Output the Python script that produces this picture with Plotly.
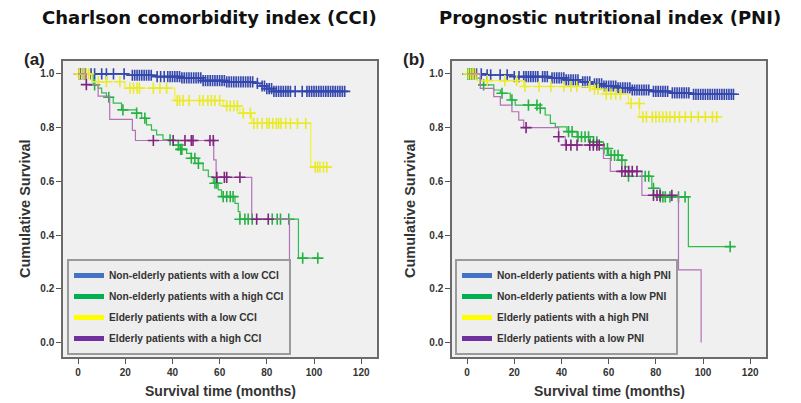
import plotly.graph_objects as go

# ---------------- data ----------------
month_ticks = [0, 20, 40, 60, 80, 100, 120]
surv_ticks = [0.0, 0.2, 0.4, 0.6, 0.8, 1.0]

panel_titles = ["Charlson comorbidity index (CCI)", "Prognostic nutritional index (PNI)"]
panel_tags = ["(a)", "(b)"]

a_names = ["Non-elderly patients with a low CCI", "Non-elderly patients with a high CCI",
           "Elderly patients with a low CCI", "Elderly patients with a high CCI"]
b_names = ["Non-elderly patients with a high PNI", "Non-elderly patients with a low PNI",
           "Elderly patients with a high PNI", "Elderly patients with a low PNI"]

# Panel (a) - step times, survival after each step, end of follow-up, censor times
a_blue_t = [0, 20.5, 33.3, 43.2, 53, 63, 74.3, 77.1, 80, 82.8]
a_blue_s = [1.0, 0.995, 0.99, 0.985, 0.975, 0.97, 0.965, 0.955, 0.945, 0.935]
a_blue_end = 113.5
a_blue_c = [0.5, 1, 1.5, 2.5, 3, 5.5, 7, 10, 12, 15, 19.5, 23, 24, 25, 26, 27, 28, 29, 30, 31,
            33.5, 35, 36.5, 38, 39, 40, 41, 42, 43, 44, 45, 46, 47, 48, 49, 50, 51, 52, 53, 54,
            55, 56, 57, 58, 59, 60, 61, 62, 63, 64, 65, 66, 67, 68, 69, 70, 71, 72, 73, 74, 76,
            78, 79, 80, 81, 82, 83, 84, 85, 86, 87, 88, 89, 90, 92, 95, 97, 98, 99, 100, 101,
            102, 103, 104, 105, 106, 107, 108, 109, 110, 111, 112, 113]

a_green_t = [0, 6.4, 8.5, 10, 12, 14.9, 18.4, 24.8, 26.9, 29, 31.1, 33.3, 36, 40.3, 43.2, 46,
             48, 51, 53, 55.2, 57.3, 59.4, 60.8, 66.5, 67.9, 68.6, 93.4]
a_green_s = [1.0, 0.959, 0.947, 0.929, 0.913, 0.891, 0.866, 0.854, 0.835, 0.81, 0.791, 0.773,
             0.754, 0.735, 0.719, 0.704, 0.686, 0.667, 0.642, 0.617, 0.593, 0.568, 0.543,
             0.518, 0.487, 0.459, 0.314]
a_green_end = 102.6
a_green_c = [7, 13, 19, 24.8, 28.3, 39, 42.5, 43.5, 44, 48, 49.5, 51, 58, 58.8, 61.5, 63,
             64.5, 65.7, 68.6, 70.7, 72.1, 73.8, 82.3, 84.4, 85.8, 89.3, 95.2, 101.6]

a_yellow_t = [0, 5.7, 19.8, 41, 61.5, 68.6, 73.6, 98.6]
a_yellow_s = [1.0, 0.971, 0.947, 0.901, 0.881, 0.854, 0.816, 0.653]
a_yellow_end = 105.4
a_yellow_c = [0.5, 1.5, 2.5, 3.5, 4.5, 8.6, 12, 17.7, 22, 23.5, 25, 26, 31.9, 34.7, 37.5, 42,
              43, 44.5, 47, 51.5, 53, 55, 56.5, 58, 60, 63, 64.5, 66, 67.5, 70, 73, 74.5, 76,
              78, 80, 81, 82.5, 84, 85, 86, 88, 90, 93, 96.5, 100.5, 101.5, 102.5, 104, 105.4]

a_purple_t = [0, 3.5, 8.5, 13.4, 23, 24.3, 57.5, 58.5, 73.6, 89.6]
a_purple_s = [1.0, 0.96, 0.917, 0.831, 0.79, 0.752, 0.68, 0.615, 0.459, 0.0]
a_purple_end = 89.6
a_purple_c = [3.5, 31.9, 40.3, 45.3, 48, 48.7, 55.9, 57.3, 58.8, 62, 63, 68.6, 75.7, 80.6]

# Panel (b)
b_blue_t = [0, 8, 20, 35, 42, 48, 53, 58, 64, 70, 78, 86, 95]
b_blue_s = [1.0, 0.996, 0.99, 0.985, 0.978, 0.97, 0.963, 0.955, 0.948, 0.94, 0.935, 0.929, 0.924]
b_blue_end = 112.9
b_blue_c = [0.3, 1, 2, 3, 4, 6, 8.5, 10, 14, 17, 20, 22, 24, 25, 26, 27, 28, 29, 30, 32, 33,
            34, 36, 37, 38, 39, 40, 41, 42, 43, 44, 45, 46, 47, 49, 50, 51, 52, 54, 55, 56, 57,
            58, 59, 60, 61, 62, 63, 64, 65, 66, 67, 68, 69, 70, 71, 72, 73, 74, 75, 76, 77, 79,
            80, 81, 82, 83, 84, 85, 87, 88, 89, 90, 91, 92, 93, 94, 96, 97, 98, 99, 100, 101,
            102, 103, 104, 105, 106, 107, 108, 109, 110, 111, 112, 112.9]

b_green_t = [0, 3.5, 5.6, 11.3, 14.1, 18.3, 20.4, 31, 33.1, 35.3, 37.4, 42.3, 46.6, 52.2, 57.8,
             60, 65.6, 67, 68.4, 78.3, 81.8, 93.8]
b_green_s = [1.0, 0.984, 0.959, 0.94, 0.928, 0.903, 0.884, 0.872, 0.847, 0.816, 0.803, 0.785,
             0.766, 0.747, 0.722, 0.697, 0.679, 0.654, 0.619, 0.574, 0.542, 0.357]
b_green_end = 112.2
b_green_c = [0.3, 1, 2, 7, 14.8, 19, 26, 29.6, 31, 43, 44.5, 47, 48.5, 50, 51.5, 53.6, 55, 58,
             59.5, 61, 62.5, 64, 65.6, 68.4, 75.5, 77, 79, 81.9, 83, 84, 86, 89.6, 92.4, 111.5]

b_yellow_t = [0, 4.2, 24, 53.6, 58, 68.4, 73.1]
b_yellow_s = [1.0, 0.975, 0.953, 0.943, 0.925, 0.89, 0.84]
b_yellow_end = 105.8
b_yellow_c = [0.5, 1.5, 2.5, 3.5, 8.5, 16, 21, 24.5, 30.5, 35.5, 41, 44, 46.5, 52, 54, 55.5,
              59, 61, 63, 65, 69.5, 73, 74.5, 76, 78.5, 80, 81.5, 83, 84.5, 86, 88, 90, 92.5,
              95, 98, 101, 104, 105.8]

b_purple_t = [0, 5.6, 11.3, 14.1, 19, 21.9, 24, 38.8, 41.6, 57.8, 60.7, 74.1, 89.6, 99.2]
b_purple_s = [1.0, 0.946, 0.915, 0.884, 0.859, 0.828, 0.8, 0.766, 0.735, 0.685, 0.637, 0.548,
              0.27, 0.0]
b_purple_end = 99.2
b_purple_c = [25, 38.8, 42, 44, 46.6, 52, 53.5, 55, 56, 65.6, 67, 68.5, 70, 72, 79, 80.5,
              81.8, 86.8]

# ---------------- styling ----------------
line_cols = ["#3d50b3", "#2fbb4d", "#f2f23a", "#b470b8"]
mark_cols = ["#3447ad", "#25b243", "#eaea2c", "#7f2580"]
legend_cols = ["#4472c4", "#00b050", "#ffff00", "#7030a0"]
FONT = "Liberation Sans, Arial, sans-serif"

W, H = 801, 403
xdom = [[63 / W, 377 / W], [452 / W, 766 / W]]
ydom = [(H - 357) / H, (H - 61) / H]


def surv_at(t_list, s_list, t):
    val = s_list[0]
    for tt, ss in zip(t_list, s_list):
        if tt <= t:
            val = ss
    return val


fig = go.Figure()

panels = [
    ("x", "y", "legend", a_names,
     [(a_blue_t, a_blue_s, a_blue_end, a_blue_c), (a_green_t, a_green_s, a_green_end, a_green_c),
      (a_yellow_t, a_yellow_s, a_yellow_end, a_yellow_c),
      (a_purple_t, a_purple_s, a_purple_end, a_purple_c)]),
    ("x2", "y2", "legend2", b_names,
     [(b_blue_t, b_blue_s, b_blue_end, b_blue_c), (b_green_t, b_green_s, b_green_end, b_green_c),
      (b_yellow_t, b_yellow_s, b_yellow_end, b_yellow_c),
      (b_purple_t, b_purple_s, b_purple_end, b_purple_c)]),
]

for xa, ya, lg, names, series in panels:
    for i, (t, s, end, cens) in enumerate(series):
        fig.add_trace(go.Scatter(
            x=list(t) + [end], y=list(s) + [s[-1]], mode="lines",
            line=dict(color=line_cols[i], width=1.2, shape="hv"),
            xaxis=xa, yaxis=ya, showlegend=False, hoverinfo="skip"))
        fig.add_trace(go.Scatter(
            x=cens, y=[surv_at(t, s, c) for c in cens], mode="markers",
            marker=dict(symbol="cross-thin", size=8,
                        line=dict(width=1.6, color=mark_cols[i])),
            xaxis=xa, yaxis=ya, showlegend=False, hoverinfo="skip"))
    for i, nm in enumerate(names):
        fig.add_trace(go.Scatter(
            x=[None], y=[None], mode="lines", name=nm,
            line=dict(color=legend_cols[i], width=5),
            xaxis=xa, yaxis=ya, legend=lg, legendgroup=lg + str(i), showlegend=True))

axis_common = dict(
    showgrid=False, zeroline=False, showline=True, mirror=True,
    linecolor="#6b6b6b", linewidth=1.5, ticks="outside", ticklen=5, tickwidth=1,
    tickcolor="#555555", tickfont=dict(family=FONT, size=10, color="#333333", weight="bold"),
)

for k in range(2):
    sx = "" if k == 0 else "2"
    fig.layout["xaxis" + sx] = dict(
        axis_common, domain=xdom[k], range=[-6.4, 126.7], tickvals=month_ticks,
        anchor="y" + sx)
    fig.layout["yaxis" + sx] = dict(
        axis_common, domain=ydom, range=[-0.054, 1.048], tickvals=surv_ticks,
        tickformat=".1f", anchor="x" + sx)

legend_common = dict(
    xanchor="left", yanchor="top", bgcolor="#eeeeee", bordercolor="#9a9a9a", borderwidth=2,
    font=dict(family=FONT, size=10.2, color="#333333", weight="bold"),
    itemwidth=30, tracegroupgap=2, traceorder="grouped", itemclick=False,
)
fig.update_layout(
    legend=dict(legend_common, x=67 / W, y=(H - 259) / H),
    legend2=dict(legend_common, x=455 / W, y=(H - 259) / H),
)

ann = []
title_x = [209, 610]
tag_x = [34, 414]
ytitle_x = [25, 410]
xtitle_x = [220, 609]
for k in range(2):
    ann.append(dict(text=panel_titles[k], x=title_x[k] / W, y=(H - 18) / H, xref="paper",
                    yref="paper", showarrow=False, xanchor="center", yanchor="middle",
                    font=dict(family="DejaVu Sans, Verdana, sans-serif", size=18,
                              color="#111111", weight="bold")))
    ann.append(dict(text=panel_tags[k], x=tag_x[k] / W, y=(H - 59) / H, xref="paper",
                    yref="paper", showarrow=False, xanchor="center", yanchor="middle",
                    font=dict(family=FONT, size=17, color="#222222", weight="bold")))
    ann.append(dict(text="Cumulative Survival", x=ytitle_x[k] / W, y=(H - 209) / H,
                    xref="paper", yref="paper", showarrow=False, textangle=-90,
                    xanchor="center", yanchor="middle",
                    font=dict(family=FONT, size=14.5, color="#333333", weight="bold")))
    ann.append(dict(text="Survival time (months)", x=xtitle_x[k] / W, y=(H - 391) / H,
                    xref="paper", yref="paper", showarrow=False, xanchor="center",
                    yanchor="middle",
                    font=dict(family=FONT, size=14, color="#333333", weight="bold")))

fig.update_layout(
    width=W, height=H, margin=dict(l=0, r=0, t=0, b=0),
    paper_bgcolor="white", plot_bgcolor="#f0f0f0", annotations=ann,
)

fig.write_html("out.html", config={"displayModeBar": False},
               post_script="document.body.style.margin='0';document.body.style.padding='0';")
